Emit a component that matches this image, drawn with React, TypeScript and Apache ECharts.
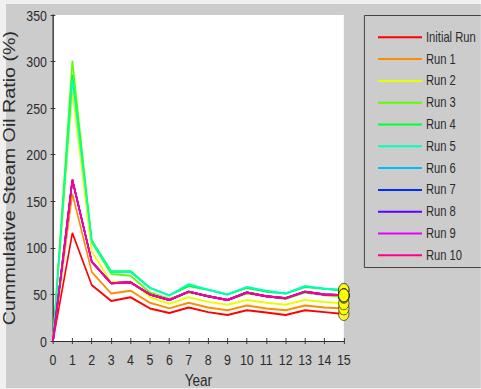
import React, { useEffect, useRef } from "react";
import * as echarts from "echarts";

const years = [0, 1, 2, 3, 4, 5, 6, 7, 8, 9, 10, 11, 12, 13, 14, 15];
const seriesNames = ["Initial Run", "Run 1", "Run 2", "Run 3", "Run 4", "Run 5", "Run 6", "Run 7", "Run 8", "Run 9", "Run 10"];
const seriesColors = ["#ff0000", "#ff8c00", "#e8ff00", "#5dff00", "#00ff2e", "#00ffba", "#00b9ff", "#002eff", "#5d00ff", "#e800ff", "#ff008b"];

const initialRun = [0, 116, 60, 43, 47, 35, 30, 36, 31, 28, 33, 30.5, 28, 33, 31, 29];
const run1 = [0, 158, 74, 51, 54, 41, 35, 41, 36, 33, 38, 35, 33, 38, 36, 35];
const run2 = [0, 268, 96, 63, 64, 47, 40, 47, 42, 39, 44, 41, 39, 44, 42, 40.5];
const run3 = [0, 301, 106, 72, 70, 52, 45, 52, 48, 44, 51, 48, 45, 52, 49, 47.5];
const run4 = [0, 286, 108, 75, 75, 57, 49, 59, 55, 50, 57, 53, 51, 58, 56, 54];
const run5 = [0, 281, 107, 74, 74, 57, 49, 61, 55, 50, 58, 54, 51, 59, 56, 55];
const run6 = [0, 173, 85, 62, 63, 50, 44, 53, 48, 44, 52, 48, 46, 53, 50, 49];
const run7 = [0, 173, 85, 62, 63, 50, 44, 53, 48, 44, 52, 48, 46, 53, 50, 49];
const run8 = [0, 173, 85, 62, 63, 50, 44, 53, 48, 44, 52, 48, 46, 53, 50, 49];
const run9 = [0, 173, 85, 62, 63, 50, 44, 53, 48, 44, 52, 48, 46, 53, 50, 49];
const run10 = [0, 173, 85, 62, 63, 50, 44, 53, 48, 44, 52, 48, 46, 53, 50, 49];

const allRuns = [initialRun, run1, run2, run3, run4, run5, run6, run7, run8, run9, run10];

// The reference figure is horizontally squeezed; reproduce it by drawing wider and scaling X.
const SX = 0.8;
const W = 481 / SX;
const H = 389;
const px = (v: number) => v / SX;

const FONT = "'Liberation Sans', Arial, sans-serif";
const TEXT = "#2b2b2b";
const AXIS = "#2b2b2b";

export default function App() {
  const ref = useRef<HTMLDivElement>(null);
  useEffect(() => {
    if (!ref.current) return;
    const chart = echarts.init(ref.current, null, { renderer: "svg" });
    const lineSeries = allRuns.map((arr, i) => ({
      name: seriesNames[i],
      type: "line",
      xAxisIndex: 0,
      yAxisIndex: 0,
      data: years.map((y, j) => [y, arr[j]]),
      symbol: "none",
      lineStyle: { color: seriesColors[i], width: 2 },
      itemStyle: { color: seriesColors[i] },
      z: 2 + i * 0.01,
    }));
    const endMarkers = {
      name: "end",
      type: "scatter",
      xAxisIndex: 0,
      yAxisIndex: 0,
      data: allRuns.map((arr) => [years[years.length - 1], arr[arr.length - 1]]),
      symbol: "circle",
      symbolSize: 13,
      itemStyle: { color: "#ffff00", borderColor: "#222222", borderWidth: 1 },
      z: 5,
    };
    const tickAxisCommon = {
      axisLine: { show: true, lineStyle: { color: AXIS, width: 1 } },
      axisTick: { show: true, inside: true, length: 3, lineStyle: { color: AXIS } },
      splitLine: { show: false },
    };
    chart.setOption({
      animation: false,
      backgroundColor: "#f0f0f0",
      graphic: [
        { type: "rect", shape: { x: px(6), y: 4, width: W, height: 384 }, style: { fill: "#cccccc" }, z: -10, silent: true },
        { type: "rect", shape: { x: px(364) + 0.5, y: 15.5, width: 200, height: 252 }, style: { fill: "none", stroke: "#333333", lineWidth: 1 }, z: 10, silent: true },
      ],
      grid: {
        left: px(53),
        right: px(137),
        top: 15,
        bottom: 48,
        show: true,
        backgroundColor: "#ffffff",
        borderWidth: 0,
        containLabel: false,
        outerBoundsMode: "none",
      },
      legend: {
        data: seriesNames,
        orient: "vertical",
        left: px(374),
        top: 21.4,
        icon: "rect",
        itemWidth: px(44),
        itemHeight: 2,
        itemGap: 0,
        textStyle: { fontFamily: FONT, fontSize: 14, color: TEXT, lineHeight: 21.8 },
        selectedMode: false,
      },
      xAxis: [
        {
          type: "value",
          min: 0,
          max: 15,
          interval: 1,
          position: "bottom",
          name: "Year",
          nameLocation: "middle",
          nameGap: 30,
          nameTextStyle: { fontFamily: FONT, fontSize: 17, color: TEXT },
          axisLabel: { fontFamily: FONT, fontSize: 15.5, color: TEXT, margin: 10 },
          ...tickAxisCommon,
        },
        {
          type: "value",
          min: 0,
          max: 15,
          interval: 1,
          position: "top",
          axisLabel: { show: false },
          ...tickAxisCommon,
        },
      ],
      yAxis: [
        {
          type: "value",
          min: 0,
          max: 350,
          interval: 50,
          position: "left",
          name: "Cummulative Steam Oil Ratio (%)",
          nameLocation: "middle",
          nameGap: 44,
          nameTextStyle: { fontFamily: FONT, fontSize: 19.7, color: TEXT },
          axisLabel: { fontFamily: FONT, fontSize: 15.5, color: TEXT, margin: px(6) },
          ...tickAxisCommon,
        },
        {
          type: "value",
          min: 0,
          max: 350,
          interval: 50,
          position: "right",
          axisLabel: { show: false },
          ...tickAxisCommon,
        },
      ],
      series: [...lineSeries, endMarkers],
    });
    return () => chart.dispose();
  }, []);
  return (
    <div style={{ position: "fixed", left: 0, top: 0, width: 481, height: H, overflow: "hidden" }}>
      <div style={{ width: W, height: H, transform: `scaleX(${SX})`, transformOrigin: "0 0" }}>
        <div ref={ref} style={{ width: W, height: H }} />
      </div>
    </div>
  );
}
